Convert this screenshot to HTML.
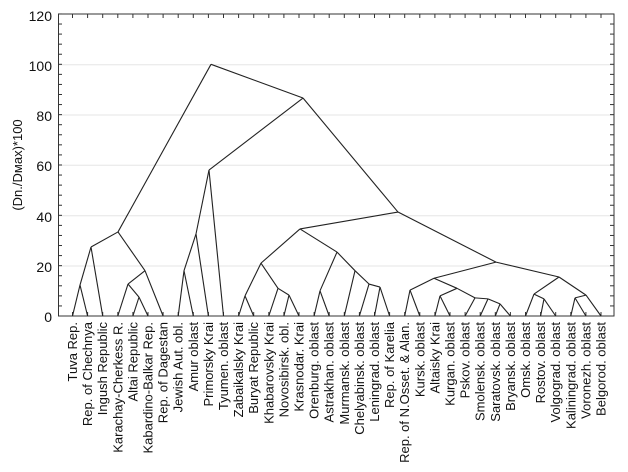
<!DOCTYPE html>
<html><head><style>body{margin:0;background:#fff}svg{display:block}text{font-family:"Liberation Sans",sans-serif;fill:#111}</style></head><body>
<svg width="628" height="472" xmlns="http://www.w3.org/2000/svg">
<g stroke="#e6e6e6" stroke-width="1">
<line x1="58" y1="64.7" x2="614" y2="64.7"/><line x1="58" y1="115" x2="614" y2="115"/><line x1="58" y1="165.3" x2="614" y2="165.3"/><line x1="58" y1="215.7" x2="614" y2="215.7"/><line x1="58" y1="266" x2="614" y2="266"/>
</g>
<g id="ticks" stroke="#333" stroke-width="1"></g>
<rect x="58.5" y="14" width="555.5" height="302" fill="none" stroke="#333" stroke-width="1"/>
<g font-size="14" text-anchor="end">
<text x="52" y="21">120</text><text x="52" y="71">100</text><text x="52" y="121">80</text><text x="52" y="171">60</text><text x="52" y="222">40</text><text x="52" y="272">20</text><text x="52" y="322">0</text>
</g>
<text transform="translate(22,165) rotate(-90)" font-size="13" text-anchor="middle">(Dn./Dмах)*100</text>
<g id="tree" stroke="#222" stroke-width="1.1" fill="none"></g>
<g id="labels" font-size="13" text-anchor="end"></g>
<script>
var L=["Tuva Rep.","Rep. of Chechnya","Ingush Republic","Karachay-Cherkess R.","Altai Republic","Kabardino-Balkar Rep.","Rep. of Dagestan","Jewish Aut. obl.","Amur oblast","Primorsky Krai","Tyumen. oblast","Zabaikalsky Krai","Buryat Republic","Khabarovsky Krai","Novosibirsk. obl.","Krasnodar. Krai","Orenburg. oblast","Astrakhan. oblast","Murmansk. oblast","Chelyabinsk. oblast","Leningrad. oblast","Rep. of Karelia","Rep. of N.Osset. & Alan.","Kursk. oblast","Altaisky Krai","Kurgan. oblast","Pskov. oblast","Smolensk. oblast","Saratovsk. oblast","Bryansk. oblast","Omsk. oblast","Rostov. oblast","Volgograd. oblast","Kaliningrad. oblast","Voronezh. oblast","Belgorod. oblast"];
var ns="http://www.w3.org/2000/svg";
function lx(i){return 72.5+15.1*i;}
var lab=document.getElementById("labels"),tk=document.getElementById("ticks"),tr=document.getElementById("tree");
function ln(g,a,b,c,d){var e=document.createElementNS(ns,"line");e.setAttribute("x1",a);e.setAttribute("y1",b);e.setAttribute("x2",c);e.setAttribute("y2",d);g.appendChild(e);}
L.forEach(function(s,i){var t=document.createElementNS(ns,"text");var x=lx(i)+4.5;t.setAttribute("transform","translate("+x+",322) rotate(-90)");t.textContent=s;lab.appendChild(t);
ln(tk,lx(i),316,lx(i),312);ln(tk,lx(i),14,lx(i),18);});
for(var v=0;v<=120;v+=4){var y=316-2.517*v;ln(tk,58,y,62,y);ln(tk,614,y,610,y);}
function Y(v){return 316-2.517*v;}
var N={};
function leaf(i){return [lx(i),0];}
function node(name,x,v,ch){N[name]=[x,v];ch.forEach(function(c){var p=typeof c==="number"?leaf(c):N[c];ln(tr,x,Y(v),p[0],Y(p[1]));});}
node("a",80,12.3,[0,1]);node("b",91,27.4,["a",2]);
node("c",139,7.5,[4,5]);node("d",128,12.7,[3,"c"]);node("e",145,18,["d",6]);node("f",118,33.4,["b","e"]);
node("g",184,18,[7,8]);node("h",196,32.6,["g",9]);node("i",209,58,["h",10]);
node("j",245,8,[11,12]);node("k",289,8.3,[14,15]);node("l",278,11,[13,"k"]);node("m",261,21,["j","l"]);
node("n",320,10,[16,17]);node("o",380,11.5,[20,21]);node("p",369,12.7,[19,"o"]);node("q",355,18,[18,"p"]);node("r",337,25.4,["n","q"]);
node("s",300,34.6,["m","r"]);
node("t",410,10.3,[22,23]);node("u",440,8,[24,25]);node("w",500,4.8,[28,29]);node("x",488,6.8,[27,"w"]);node("y",475,7.2,[26,"x"]);node("z",457,11,["u","y"]);node("A",434,15,["t","z"]);
node("B",544,6.8,[31,32]);node("C",534,8.7,[30,"B"]);node("D",575,7.2,[33,34]);node("E",586,8.3,["D",35]);node("F",559,15.5,["C","E"]);
node("G",496,21.4,["A","F"]);node("H",398,41.3,["s","G"]);node("I",303,86.6,["i","H"]);node("R",211,100,["f","I"]);
</script>
</svg>
</body></html>
